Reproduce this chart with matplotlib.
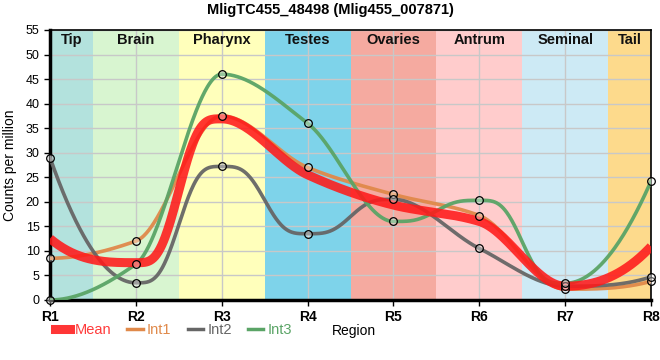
import numpy as np
import matplotlib
matplotlib.use("Agg")
import matplotlib.pyplot as plt
from matplotlib.lines import Line2D

plt.rcParams['font.family'] = ['Liberation Sans', 'DejaVu Sans']

regions = ["R1", "R2", "R3", "R4", "R5", "R6", "R7", "R8"]
int1 = [8.5, 12.0, 37.5, 27.0, 21.5, 17.2, 2.2, 3.8]
int2 = [29.0, 3.5, 27.2, 13.5, 20.5, 10.5, 2.8, 4.7]
int3 = [0.0, 7.3, 46.0, 36.0, 16.0, 20.3, 3.4, 24.2]

tissues = ["Tip", "Brain", "Pharynx", "Testes", "Ovaries", "Antrum", "Seminal", "Tail"]
tissue_edges = [1, 1.5, 2.5, 3.5, 4.5, 5.5, 6.5, 7.5, 8]
tissue_colors = ["#b3e2dd", "#d8f5d0", "#ffffbb", "#7ed3ea", "#f5aaa0",
                 "#ffcccc", "#cdeaf5", "#fdda8c"]


def smooth_curve(x, y, xs):
    # monotone cubic (pchip tangents); peak-to-trough segments get a sharper blend
    x = np.asarray(x, float)
    y = np.asarray(y, float)
    h = np.diff(x)
    delta = np.diff(y) / h
    n = len(x)
    d = np.zeros(n)
    for k in range(1, n - 1):
        if delta[k - 1] * delta[k] > 0:
            w1 = 2 * h[k] + h[k - 1]
            w2 = h[k] + 2 * h[k - 1]
            d[k] = (w1 + w2) / (w1 / delta[k - 1] + w2 / delta[k])

    def end(h0, h1, d0, d1):
        s = ((2 * h0 + h1) * d0 - h0 * d1) / (h0 + h1)
        if np.sign(s) != np.sign(d0):
            s = 0.0
        elif np.sign(d0) != np.sign(d1) and abs(s) > abs(3 * d0):
            s = 3 * d0
        return s

    d[0] = end(h[0], h[1], delta[0], delta[1])
    d[-1] = end(h[-1], h[-2], delta[-1], delta[-2])
    idx = np.clip(np.searchsorted(x, xs) - 1, 0, n - 2)
    t = (xs - x[idx]) / h[idx]
    s1 = 3 * t**2 - 2 * t**3
    s2 = 3 * s1**2 - 2 * s1**3
    flat = (d[idx] == 0) & (d[idx + 1] == 0)
    blend = np.where(flat, s2, s1)
    h10 = t * (1 - t)**2
    h11 = t**3 - t**2
    return ((1 - blend) * y[idx] + blend * y[idx + 1]
            + h10 * h[idx] * d[idx] + h11 * h[idx] * d[idx + 1])


xpos = np.arange(1, len(regions) + 1)
xs = np.linspace(1, len(regions), 700)
mean = np.mean([int1, int2, int3], axis=0)

fig = plt.figure(figsize=(6.6, 3.6), dpi=100)
ax = fig.add_axes([0.0758, 0.1667, 0.9106, 0.75])

for i, name in enumerate(tissues):
    ax.axvspan(tissue_edges[i], tissue_edges[i + 1], color=tissue_colors[i], zorder=0, lw=0)
    ax.text((tissue_edges[i] + tissue_edges[i + 1]) / 2, 54.3, name, ha="center", va="top",
            fontsize=10.5, fontweight="bold", color="#111111", zorder=1)

ax.set_xlim(1, 8)
ax.set_ylim(0, 55)
ax.set_yticks(np.arange(0, 56, 5))
ax.set_xticks(xpos)
ax.set_xticklabels(regions, fontweight="bold", fontsize=10)
ax.tick_params(axis="y", labelsize=9, length=4, width=1)
ax.tick_params(axis="x", length=4, width=1, pad=3)
ax.grid(True, color="#c8c8c8", lw=1, zorder=0.5)
ax.set_axisbelow(True)

line_cols = {"Int1": "#e0894a", "Int2": "#666666", "Int3": "#5aa466"}
for label, vals in [("Int1", int1), ("Int2", int2), ("Int3", int3)]:
    ax.plot(xs, smooth_curve(xpos, vals, xs), color=line_cols[label], lw=2.6, alpha=0.95,
            zorder=3)

ax.plot(xs, smooth_curve(xpos, mean, xs), color="#ff1a1a", lw=6.5, alpha=0.88, zorder=4,
        solid_capstyle="butt")

for vals in (int1, int2, int3):
    ax.plot(xpos, vals, ls="none", marker="o", ms=5.5, mfc=(1, 1, 1, 0.35), mec="black",
            mew=0.9, zorder=5, clip_on=False)

for side in ("left", "bottom"):
    ax.spines[side].set_linewidth(2.5)
for side in ("top", "right"):
    ax.spines[side].set_linewidth(1.2)

ax.set_ylabel("Counts per million", fontsize=10, labelpad=6)
fig.text(0.503, 0.08, "Region", ha="left", va="center", fontsize=10)
fig.text(0.5, 0.972, "MligTC455_48498 (Mlig455_007871)", ha="center", va="center",
         fontsize=10.5, fontweight="bold")

handles = [Line2D([], [], color="#ff1a1a", lw=6.5, alpha=0.88),
           Line2D([], [], color=line_cols["Int1"], lw=2.5),
           Line2D([], [], color=line_cols["Int2"], lw=2.5),
           Line2D([], [], color=line_cols["Int3"], lw=2.5)]
leg = fig.legend(handles, ["Mean", "Int1", "Int2", "Int3"], loc="center left",
                 bbox_to_anchor=(55 / 660, 0.083), ncol=4, frameon=False, fontsize=10.5,
                 handlelength=1.05, handletextpad=0.3, columnspacing=1.1,
                 borderpad=0, borderaxespad=0)
for txt, col in zip(leg.get_texts(), ["#ff3b3b", line_cols["Int1"], line_cols["Int2"],
                                      line_cols["Int3"]]):
    txt.set_color(col)

fig.savefig("out.png", dpi=100)
